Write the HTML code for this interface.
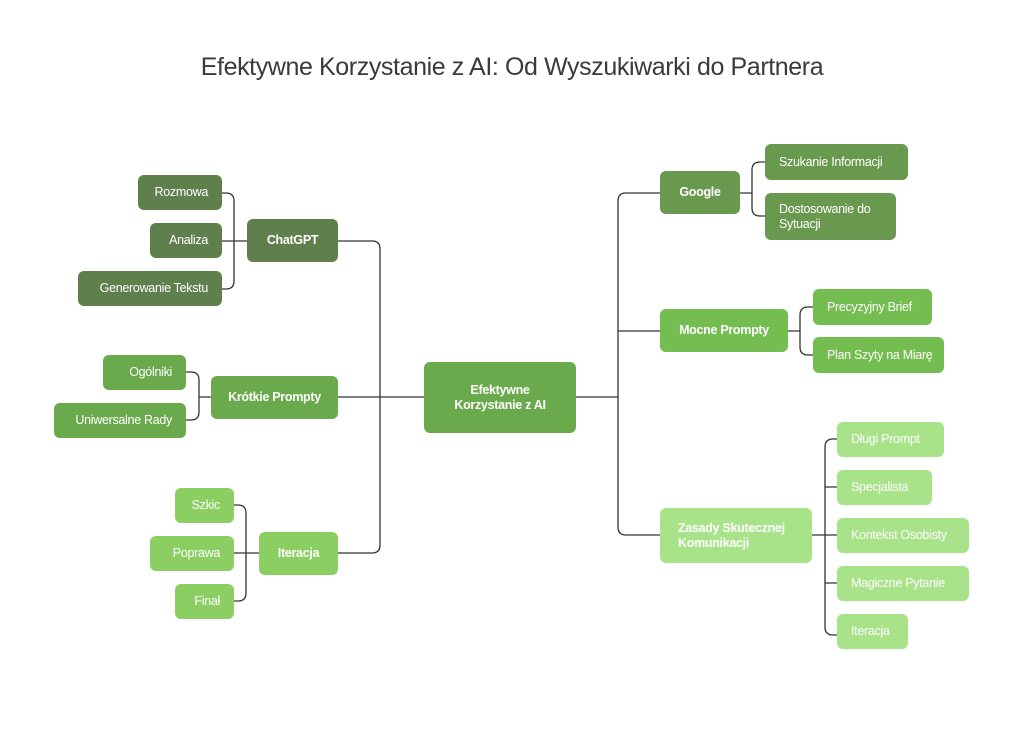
<!DOCTYPE html>
<html><head><meta charset="utf-8"><style>
body{margin:0;width:1024px;height:735px;background:#fff;position:relative;font-family:"Liberation Sans",sans-serif;overflow:hidden}
.t{position:absolute;left:0;width:1024px;top:53px;text-align:center;font-size:25px;color:#3a3a3a;letter-spacing:-0.4px}
.n{position:absolute;box-sizing:border-box;border-radius:6px;color:#fff;font-size:12.5px;display:flex;align-items:center;letter-spacing:-0.3px;line-height:15px}
.r{justify-content:flex-end;padding-right:14px}
.l{justify-content:flex-start;padding-left:14px}
.c{justify-content:center;text-align:center;font-weight:bold}
.b{font-weight:bold}
svg{position:absolute;left:0;top:0}
</style></head><body>
<div class="t">Efektywne Korzystanie z AI: Od Wyszukiwarki do Partnera</div>
<svg width="1024" height="735" fill="none" stroke="#333" stroke-width="1.3">
<path d="M338 397H424M575 397H618"/>
<path d="M338 241H372Q380 241 380 249V545Q380 553 372 553H338"/>
<path d="M660 193H626Q618 193 618 201V527Q618 535 626 535H660M618 331H660"/>
<path d="M222 193H226Q234 193 234 201V281Q234 289 226 289H222M222 241H247"/>
<path d="M186 372H191Q199 372 199 380V412Q199 420 191 420H186M199 397H211"/>
<path d="M234 505H238Q246 505 246 513V593Q246 601 238 601H234M234 553H259"/>
<path d="M740 193H752M765 162H760Q752 162 752 170V208Q752 216 760 216H765"/>
<path d="M788 331H800M813 307H808Q800 307 800 315V347Q800 355 808 355H813"/>
<path d="M812 535H837M837 439H833Q825 439 825 447V627Q825 635 833 635H837M825 487H837M825 583H837"/>
</svg>
<div class="n r" style="left:138px;top:175px;width:84px;height:35px;background:#5f7f4d">Rozmowa</div>
<div class="n r" style="left:150px;top:223px;width:72px;height:35px;background:#5f7f4d">Analiza</div>
<div class="n r" style="left:78px;top:271px;width:144px;height:35px;background:#5f7f4d">Generowanie Tekstu</div>
<div class="n c" style="left:247px;top:219px;width:91px;height:43px;background:#5f7f4d">ChatGPT</div>
<div class="n r" style="left:103px;top:355px;width:83px;height:35px;background:#6aa94c">Ogólniki</div>
<div class="n r" style="left:54px;top:403px;width:132px;height:35px;background:#6aa94c">Uniwersalne Rady</div>
<div class="n c" style="left:211px;top:376px;width:127px;height:43px;background:#6aa94c">Krótkie Prompty</div>
<div class="n r" style="left:175px;top:488px;width:59px;height:35px;background:#8bcf63">Szkic</div>
<div class="n r" style="left:150px;top:536px;width:84px;height:35px;background:#8bcf63">Poprawa</div>
<div class="n r" style="left:175px;top:584px;width:59px;height:35px;background:#8bcf63">Finał</div>
<div class="n c" style="left:259px;top:532px;width:79px;height:43px;background:#8bcf63">Iteracja</div>
<div class="n c" style="left:424px;top:362px;width:152px;height:71px;background:#6aa94c">Efektywne<br>Korzystanie z AI</div>
<div class="n c" style="left:660px;top:171px;width:80px;height:43px;background:#69984f">Google</div>
<div class="n l" style="left:765px;top:144px;width:143px;height:36px;background:#69984f">Szukanie Informacji</div>
<div class="n l" style="left:765px;top:193px;width:131px;height:47px;background:#69984f">Dostosowanie do<br>Sytuacji</div>
<div class="n c" style="left:660px;top:309px;width:128px;height:43px;background:#74bd50">Mocne Prompty</div>
<div class="n l" style="left:813px;top:289px;width:119px;height:36px;background:#74bd50">Precyzyjny Brief</div>
<div class="n l" style="left:813px;top:337px;width:131px;height:36px;background:#74bd50">Plan Szyty na Miarę</div>
<div class="n l b" style="left:660px;top:508px;width:152px;height:55px;background:#a8e38a;padding-left:18px">Zasady Skutecznej<br>Komunikacji</div>
<div class="n l" style="left:837px;top:422px;width:107px;height:35px;background:#a8e38a">Długi Prompt</div>
<div class="n l" style="left:837px;top:470px;width:95px;height:35px;background:#a8e38a">Specjalista</div>
<div class="n l" style="left:837px;top:518px;width:132px;height:35px;background:#a8e38a">Kontekst Osobisty</div>
<div class="n l" style="left:837px;top:566px;width:132px;height:35px;background:#a8e38a">Magiczne Pytanie</div>
<div class="n l" style="left:837px;top:614px;width:71px;height:35px;background:#a8e38a">Iteracja</div>
</body></html>
